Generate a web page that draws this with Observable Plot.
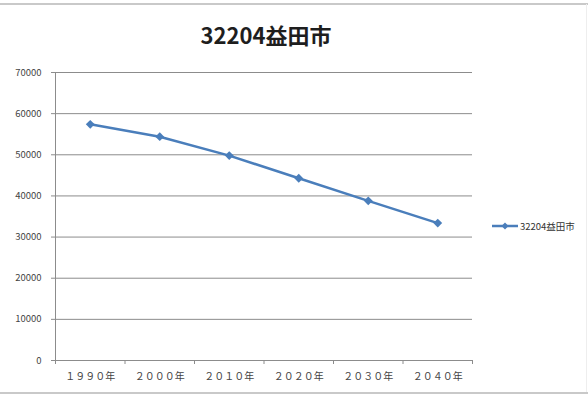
<!DOCTYPE html>
<html>
<head>
<meta charset="utf-8">
<script src="https://cdn.jsdelivr.net/npm/d3@7"></script>
<script src="https://cdn.jsdelivr.net/npm/@observablehq/plot@0.6"></script>
<style>
  html, body { margin: 0; padding: 0; background: #fff; }
  #wrap { position: relative; width: 588px; height: 396px; overflow: hidden; background: #fff; }
  #title { position: absolute; left: 0; width: 532px; top: 18px; text-align: center;
    font-family: "Noto Sans CJK JP", "Noto Sans", sans-serif; font-weight: bold; font-size: 22px; color: #1e1e1e; }
  .bt { position: absolute; left: 0; width: 588px; height: 2px; background: #c9c9c9; }
  #legend { position: absolute; left: 491px; top: 219px; font-family: "Noto Sans CJK JP", sans-serif;
    font-size: 9.5px; color: #333; display: flex; align-items: center; white-space: nowrap; }
  #chart { position: absolute; left: 0; top: 0; }
</style>
</head>
<body>
<div id="wrap">
  <div class="bt" style="top:3px"></div>
  <div class="bt" style="top:392px"></div>
  <div style="position:absolute;left:586px;top:4px;width:1px;height:388px;background:#eee"></div>
  <div id="chart"></div>
  <div id="title"></div>
  <div id="legend"></div>
</div>
<script>
const seriesName = "32204益田市";
const years = ["１９９０年", "２０００年", "２０１０年", "２０２０年", "２０３０年", "２０４０年"];
const population = [57400, 54400, 49800, 44300, 38800, 33400];
const yTicks = [0, 10000, 20000, 30000, 40000, 50000, 60000, 70000];

const blue = "#4a7ebb";
const data = years.map((label, i) => ({pos: i + 0.5, label, value: population[i]}));
const bandEdges = d3.range(years.length + 1);

const chart = Plot.plot({
  width: 588,
  height: 396,
  marginLeft: 55,
  marginRight: 116,
  marginTop: 72,
  marginBottom: 36,
  style: {fontFamily: "'Noto Sans CJK JP', sans-serif", fontSize: "9.5px", color: "#444", background: "transparent"},
  x: {domain: [0, years.length], label: null},
  y: {domain: [0, 70000], label: null},
  marks: [
    Plot.gridY(yTicks, {stroke: "#8c8c8c", strokeOpacity: 1}),
    Plot.axisY(yTicks, {tickSize: 4, tickPadding: 10, stroke: "#8c8c8c", label: null, tickFormat: d => String(d)}),
    Plot.axisX(bandEdges, {tickSize: 4, stroke: "#8c8c8c", label: null, tickFormat: () => ""}),
    Plot.axisX(data.map(d => d.pos), {tickSize: 0, tickPadding: 12, fontSize: 10, label: null, tickFormat: d => years[Math.floor(d)]}),
    Plot.ruleX([0], {stroke: "#8c8c8c"}),
    Plot.ruleY([0], {stroke: "#8c8c8c"}),
    Plot.line(data, {x: "pos", y: "value", stroke: blue, strokeWidth: 2.5}),
    Plot.dot(data, {x: "pos", y: "value", symbol: "diamond2", fill: blue, r: 4})
  ]
});
document.getElementById("chart").appendChild(chart);
document.getElementById("title").textContent = seriesName;

const lg = document.getElementById("legend");
lg.innerHTML = `<svg width="28" height="12" style="margin-right:1px"><line x1="1" x2="27" y1="6" y2="6" stroke="${blue}" stroke-width="2.5"/><path d="M14,2.5L17.5,6L14,9.5L10.5,6Z" fill="${blue}"/></svg><span></span>`;
lg.querySelector("span").textContent = seriesName;
</script>
</body>
</html>
